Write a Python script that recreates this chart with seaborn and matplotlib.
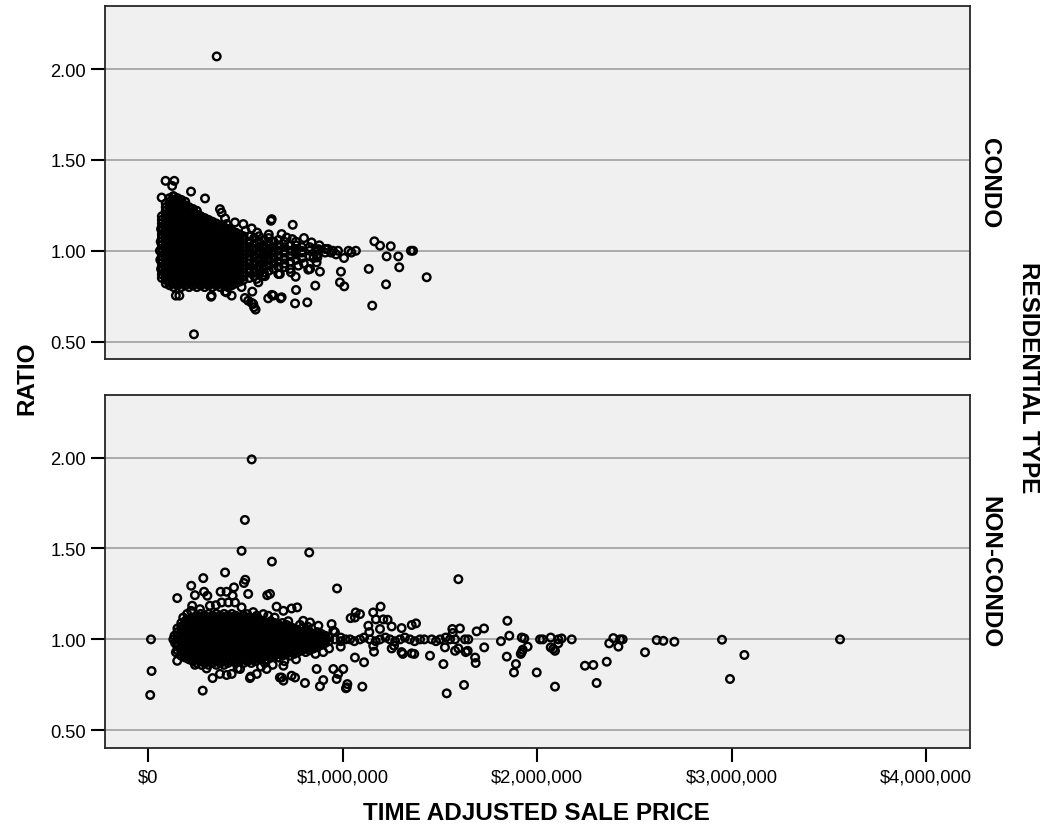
import matplotlib
matplotlib.use("Agg")
import numpy as np
import pandas as pd
import matplotlib.pyplot as plt
import seaborn as sns
from matplotlib.ticker import FuncFormatter

# ---------------- data (price in $1000s, ratio) ----------------
# CONDO: dense core, one list of ratios per price column (read from the black blob)
condo_core_price = [70, 90, 110, 130, 150, 170, 190, 210, 230, 250, 270, 290,
                    310, 330, 350, 370, 390, 410, 430, 450, 470, 490,
                    520, 545, 570, 595, 620, 645, 670, 700, 730, 760, 790, 830, 870, 910]
condo_core_ratio = [
    [0.85, 0.87, 0.89, 0.91, 0.93, 0.95, 0.97, 0.99, 1.01, 1.03, 1.05, 1.07, 1.09, 1.11, 1.13, 1.15, 1.17, 1.19],
    [0.82, 0.84, 0.86, 0.88, 0.90, 0.92, 0.94, 0.96, 0.98, 1.00, 1.02, 1.04, 1.06, 1.08, 1.10, 1.12, 1.14, 1.16, 1.18, 1.20, 1.22, 1.24, 1.26],
    [0.81, 0.83, 0.85, 0.87, 0.89, 0.91, 0.93, 0.95, 0.97, 0.99, 1.01, 1.03, 1.05, 1.07, 1.09, 1.11, 1.13, 1.15, 1.17, 1.19, 1.21, 1.23, 1.25, 1.27, 1.29],
    [0.80, 0.82, 0.84, 0.86, 0.88, 0.90, 0.92, 0.94, 0.96, 0.98, 1.00, 1.02, 1.04, 1.06, 1.08, 1.10, 1.12, 1.14, 1.16, 1.18, 1.20, 1.22, 1.24, 1.26, 1.28, 1.30],
    [0.81, 0.83, 0.85, 0.87, 0.89, 0.91, 0.93, 0.95, 0.97, 0.99, 1.01, 1.03, 1.05, 1.07, 1.09, 1.11, 1.13, 1.15, 1.17, 1.19, 1.21, 1.23, 1.25, 1.27, 1.29],
    [0.80, 0.82, 0.84, 0.86, 0.88, 0.90, 0.92, 0.94, 0.96, 0.98, 1.00, 1.02, 1.04, 1.06, 1.08, 1.10, 1.12, 1.14, 1.16, 1.18, 1.20, 1.22, 1.24, 1.26, 1.28],
    [0.81, 0.83, 0.85, 0.87, 0.89, 0.91, 0.93, 0.95, 0.97, 0.99, 1.01, 1.03, 1.05, 1.07, 1.09, 1.11, 1.13, 1.15, 1.17, 1.19, 1.21, 1.23, 1.25, 1.27],
    [0.80, 0.82, 0.84, 0.86, 0.88, 0.90, 0.92, 0.94, 0.96, 0.98, 1.00, 1.02, 1.04, 1.06, 1.08, 1.10, 1.12, 1.14, 1.16, 1.18, 1.20, 1.22, 1.24],
    [0.81, 0.83, 0.85, 0.87, 0.89, 0.91, 0.93, 0.95, 0.97, 0.99, 1.01, 1.03, 1.05, 1.07, 1.09, 1.11, 1.13, 1.15, 1.17, 1.19, 1.21, 1.23],
    [0.80, 0.82, 0.84, 0.86, 0.88, 0.90, 0.92, 0.94, 0.96, 0.98, 1.00, 1.02, 1.04, 1.06, 1.08, 1.10, 1.12, 1.14, 1.16, 1.18, 1.20, 1.22],
    [0.81, 0.83, 0.85, 0.87, 0.89, 0.91, 0.93, 0.95, 0.97, 0.99, 1.01, 1.03, 1.05, 1.07, 1.09, 1.11, 1.13, 1.15, 1.17, 1.19],
    [0.80, 0.82, 0.84, 0.86, 0.88, 0.90, 0.92, 0.94, 0.96, 0.98, 1.00, 1.02, 1.04, 1.06, 1.08, 1.10, 1.12, 1.14, 1.16, 1.18],
    [0.81, 0.83, 0.85, 0.87, 0.89, 0.91, 0.93, 0.95, 0.97, 0.99, 1.01, 1.03, 1.05, 1.07, 1.09, 1.11, 1.13, 1.15, 1.17],
    [0.80, 0.82, 0.84, 0.86, 0.88, 0.90, 0.92, 0.94, 0.96, 0.98, 1.00, 1.02, 1.04, 1.06, 1.08, 1.10, 1.12, 1.14, 1.16],
    [0.81, 0.83, 0.85, 0.87, 0.89, 0.91, 0.93, 0.95, 0.97, 0.99, 1.01, 1.03, 1.05, 1.07, 1.09, 1.11, 1.13, 1.15],
    [0.80, 0.82, 0.84, 0.86, 0.88, 0.90, 0.92, 0.94, 0.96, 0.98, 1.00, 1.02, 1.04, 1.06, 1.08, 1.10, 1.12, 1.14],
    [0.81, 0.83, 0.85, 0.87, 0.89, 0.91, 0.93, 0.95, 0.97, 0.99, 1.01, 1.03, 1.05, 1.07, 1.09, 1.11, 1.13],
    [0.80, 0.82, 0.84, 0.86, 0.88, 0.90, 0.92, 0.94, 0.96, 0.98, 1.00, 1.02, 1.04, 1.06, 1.08, 1.10, 1.12],
    [0.81, 0.83, 0.85, 0.87, 0.89, 0.91, 0.93, 0.95, 0.97, 0.99, 1.01, 1.03, 1.05, 1.07, 1.09, 1.11],
    [0.82, 0.84, 0.86, 0.88, 0.90, 0.92, 0.94, 0.96, 0.98, 1.00, 1.02, 1.04, 1.06, 1.08, 1.10],
    [0.83, 0.85, 0.87, 0.89, 0.91, 0.93, 0.95, 0.97, 0.99, 1.01, 1.03, 1.05, 1.07, 1.09],
    [0.84, 0.86, 0.88, 0.90, 0.92, 0.94, 0.96, 0.98, 1.00, 1.02, 1.04, 1.06, 1.08],
    [0.85, 0.88, 0.90, 0.93, 0.95, 0.97, 0.99, 1.00, 1.02, 1.05, 1.08],
    [0.86, 0.89, 0.92, 0.94, 0.97, 1.00, 1.01, 1.04, 1.07],
    [0.87, 0.90, 0.92, 0.95, 0.98, 1.00, 1.02, 1.05, 1.08],
    [0.88, 0.91, 0.94, 0.96, 0.99, 1.01, 1.03, 1.06],
    [0.89, 0.92, 0.95, 0.98, 1.00, 1.01, 1.04, 1.07],
    [0.90, 0.93, 0.96, 0.99, 1.00, 1.02, 1.05],
    [0.91, 0.94, 0.97, 1.00, 1.03, 1.06],
    [0.93, 0.96, 0.99, 1.00, 1.02, 1.05],
    [0.94, 0.97, 1.00, 1.03],
    [0.95, 0.98, 1.00, 1.01, 1.03],
    [0.96, 0.99, 1.00, 1.02],
    [0.97, 1.00, 1.02],
    [0.98, 1.00],
    [0.99, 1.01],
]
# CONDO: individually visible points
condo_points = [
    (352, 2.07), (235, 0.54),
    (89, 1.385), (134, 1.385), (123, 1.357), (69, 1.293), (129, 1.30), (220, 1.326), (292, 1.288),
    (369, 1.229), (377, 1.21), (395, 1.178), (403, 1.147), (446, 1.156), (489, 1.147), (532, 1.123),
    (635, 1.174), (631, 1.165), (743, 1.143), (686, 1.092), (712, 1.073), (741, 1.064), (801, 1.07),
    (840, 1.046), (875, 1.009), (918, 1.009), (924, 1.01), (976, 1.0), (1068, 1.0), (1163, 1.052),
    (1192, 1.028), (1247, 1.025), (1226, 0.969), (1286, 0.969), (1291, 0.909), (1351, 1.0), (1362, 1.0),
    (1432, 0.854), (1223, 0.815), (1152, 0.698), (1134, 0.90), (1007, 0.96), (966, 0.98), (991, 0.885),
    (986, 0.826), (1008, 0.804), (859, 0.808), (883, 0.885), (823, 0.896), (866, 0.936), (870, 0.963),
    (760, 0.784), (755, 0.71), (818, 0.716), (681, 0.738), (636, 0.757), (617, 0.738), (552, 0.676),
    (532, 0.713), (497, 0.74), (544, 0.689), (677, 0.872), (734, 0.881), (758, 0.857), (588, 0.863),
    (566, 0.826), (535, 0.775), (429, 0.753), (395, 0.775), (323, 0.747), (142, 0.753), (160, 0.753),
    (326, 0.753), (403, 0.771), (514, 0.725), (540, 0.707), (643, 0.753), (686, 0.744), (832, 0.90),
    (772, 0.918), (729, 0.90), (669, 0.872), (592, 0.863), (558, 0.845),
    (60, 1.00), (62, 0.95), (64, 1.05), (66, 0.90), (66, 1.12),
    (1030, 1.0), (1045, 0.99), (950, 1.0), (940, 0.99),
    (480, 0.80), (500, 1.11), (560, 1.10), (600, 0.86), (620, 1.09), (700, 0.91), (760, 1.05),
    (800, 0.93), (850, 0.96), (880, 1.03),
]

# NON-CONDO: dense core columns
noncondo_core_price = [150, 170, 190, 210, 230, 250, 270, 290, 310, 330, 350, 370,
                       390, 410, 430, 450, 470, 490, 510, 530, 550, 570, 590, 610,
                       630, 650, 670, 690, 710, 730, 750, 770, 790, 810, 830, 850,
                       870, 890, 910, 930, 960, 990]
noncondo_core_ratio = [
    [0.94, 0.96, 0.98, 1.00, 1.02, 1.04, 1.06],
    [0.91, 0.93, 0.95, 0.97, 0.99, 1.01, 1.03, 1.05, 1.07, 1.09],
    [0.90, 0.92, 0.94, 0.96, 0.98, 1.00, 1.02, 1.04, 1.06, 1.08, 1.10],
    [0.89, 0.91, 0.93, 0.95, 0.97, 0.99, 1.01, 1.03, 1.05, 1.07, 1.09, 1.11],
    [0.88, 0.90, 0.92, 0.94, 0.96, 0.98, 1.00, 1.02, 1.04, 1.06, 1.08, 1.10, 1.12],
    [0.87, 0.89, 0.91, 0.93, 0.95, 0.97, 0.99, 1.01, 1.03, 1.05, 1.07, 1.09, 1.11, 1.13],
    [0.88, 0.90, 0.92, 0.94, 0.96, 0.98, 1.00, 1.02, 1.04, 1.06, 1.08, 1.10, 1.12, 1.14],
    [0.87, 0.89, 0.91, 0.93, 0.95, 0.97, 0.99, 1.01, 1.03, 1.05, 1.07, 1.09, 1.11, 1.13],
    [0.86, 0.88, 0.90, 0.92, 0.94, 0.96, 0.98, 1.00, 1.02, 1.04, 1.06, 1.08, 1.10, 1.12, 1.14],
    [0.87, 0.89, 0.91, 0.93, 0.95, 0.97, 0.99, 1.01, 1.03, 1.05, 1.07, 1.09, 1.11, 1.13],
    [0.86, 0.88, 0.90, 0.92, 0.94, 0.96, 0.98, 1.00, 1.02, 1.04, 1.06, 1.08, 1.10, 1.12, 1.14],
    [0.87, 0.89, 0.91, 0.93, 0.95, 0.97, 0.99, 1.01, 1.03, 1.05, 1.07, 1.09, 1.11, 1.13],
    [0.86, 0.88, 0.90, 0.92, 0.94, 0.96, 0.98, 1.00, 1.02, 1.04, 1.06, 1.08, 1.10, 1.12, 1.14],
    [0.87, 0.89, 0.91, 0.93, 0.95, 0.97, 0.99, 1.01, 1.03, 1.05, 1.07, 1.09, 1.11, 1.13],
    [0.88, 0.90, 0.92, 0.94, 0.96, 0.98, 1.00, 1.02, 1.04, 1.06, 1.08, 1.10, 1.12, 1.14],
    [0.87, 0.89, 0.91, 0.93, 0.95, 0.97, 0.99, 1.01, 1.03, 1.05, 1.07, 1.09, 1.11, 1.13],
    [0.88, 0.90, 0.92, 0.94, 0.96, 0.98, 1.00, 1.02, 1.04, 1.06, 1.08, 1.10, 1.12],
    [0.87, 0.89, 0.91, 0.93, 0.95, 0.97, 0.99, 1.01, 1.03, 1.05, 1.07, 1.09, 1.11, 1.13],
    [0.88, 0.90, 0.92, 0.94, 0.96, 0.98, 1.00, 1.02, 1.04, 1.06, 1.08, 1.10, 1.12],
    [0.87, 0.89, 0.91, 0.93, 0.95, 0.97, 0.99, 1.01, 1.03, 1.05, 1.07, 1.09, 1.11],
    [0.88, 0.90, 0.92, 0.94, 0.96, 0.98, 1.00, 1.02, 1.04, 1.06, 1.08, 1.10, 1.12],
    [0.89, 0.91, 0.93, 0.95, 0.97, 0.99, 1.01, 1.03, 1.05, 1.07, 1.09, 1.11],
    [0.90, 0.92, 0.94, 0.96, 0.98, 1.00, 1.02, 1.04, 1.06, 1.08, 1.10],
    [0.89, 0.91, 0.93, 0.95, 0.97, 0.99, 1.01, 1.03, 1.05, 1.07, 1.09],
    [0.90, 0.92, 0.94, 0.96, 0.98, 1.00, 1.02, 1.04, 1.06, 1.08, 1.10],
    [0.91, 0.93, 0.95, 0.97, 0.99, 1.01, 1.03, 1.05, 1.07, 1.09],
    [0.90, 0.92, 0.94, 0.96, 0.98, 1.00, 1.02, 1.04, 1.06, 1.08],
    [0.91, 0.93, 0.95, 0.97, 0.99, 1.01, 1.03, 1.05, 1.07, 1.09],
    [0.92, 0.94, 0.96, 0.98, 1.00, 1.02, 1.04, 1.06, 1.08],
    [0.91, 0.93, 0.95, 0.97, 0.99, 1.01, 1.03, 1.05, 1.07],
    [0.92, 0.94, 0.96, 0.98, 1.00, 1.02, 1.04, 1.06],
    [0.93, 0.95, 0.97, 0.99, 1.01, 1.03, 1.05],
    [0.94, 0.96, 0.98, 1.00, 1.02, 1.04, 1.06],
    [0.93, 0.95, 0.97, 0.99, 1.01, 1.03, 1.05],
    [0.94, 0.96, 0.98, 1.00, 1.02, 1.04],
    [0.95, 0.97, 0.99, 1.01, 1.03],
    [0.96, 0.98, 1.00, 1.02, 1.04],
    [0.97, 0.99, 1.01, 1.03],
    [0.98, 1.00, 1.02],
    [0.99, 1.01],
    [1.00],
    [0.99, 1.01],
]
# NON-CONDO: individually visible points
noncondo_points = [
    (532, 1.99), (497, 1.657), (480, 1.487), (828, 1.478), (636, 1.428), (971, 1.28), (1595, 1.331),
    (395, 1.368), (283, 1.337), (499, 1.328), (492, 1.31), (221, 1.295), (149, 1.227), (240, 1.243),
    (287, 1.262), (304, 1.24), (372, 1.262), (403, 1.262), (441, 1.286), (434, 1.24), (514, 1.25),
    (612, 1.243), (626, 1.25), (660, 1.18), (737, 1.17), (766, 1.176),
    (280, 0.718), (10, 0.694), (17, 0.826), (14, 1.0), (331, 0.787), (523, 0.787), (527, 0.795),
    (695, 0.773), (677, 0.79), (737, 0.80), (806, 0.76), (883, 0.742), (900, 0.776), (969, 0.782),
    (977, 0.81), (1017, 0.731), (1024, 0.754), (1101, 0.74), (1110, 0.874), (1535, 0.703),
    (1624, 0.749), (1518, 0.864), (1449, 0.91), (1681, 0.90), (1684, 0.87), (1728, 0.956),
    (1689, 1.044), (1727, 1.06), (1847, 1.102), (1844, 0.905), (1891, 0.864), (1881, 0.818),
    (1814, 0.99), (1857, 1.02), (1921, 1.01), (1934, 1.005), (1951, 0.96), (1921, 0.93), (1916, 0.92),
    (1998, 0.818), (2015, 1.0),
    (1041, 1.117), (1067, 1.148), (1089, 1.139), (1063, 1.12), (1157, 1.148), (1195, 1.18),
    (1171, 1.11), (1209, 1.11), (1231, 1.108), (1252, 1.071), (1132, 1.075), (1137, 1.04),
    (1192, 1.057), (1303, 1.062), (1355, 1.079), (1377, 1.088), (1564, 1.057), (1603, 1.06),
    (1566, 1.035),
    (1157, 0.965), (1161, 0.932), (1252, 0.95), (1264, 0.965), (1303, 0.93), (1309, 0.92),
    (1355, 0.923), (1368, 0.92), (1526, 0.956), (1578, 0.937), (1595, 0.95), (1633, 0.93),
    (1643, 0.937),
    (1038, 1.0), (1089, 1.0), (1140, 1.0), (1192, 1.0), (1243, 1.0), (1295, 1.0), (1346, 1.0),
    (1398, 1.0), (1458, 1.0), (1501, 1.0), (1552, 1.0), (1578, 1.0), (1629, 1.0), (1646, 1.0),
    (1015, 1.0), (1060, 0.99), (1110, 1.01), (1170, 0.99), (1220, 1.01), (1270, 0.99), (1320, 1.01),
    (1370, 0.99), (1420, 1.0), (1480, 0.99), (1530, 1.01),
    (2029, 1.0), (2070, 1.01), (2109, 1.0), (2126, 1.005), (2178, 1.0), (2392, 1.007), (2427, 1.0),
    (2440, 1.0), (2615, 0.996), (2649, 0.992), (2706, 0.987), (2951, 0.998), (3558, 1.0),
    (1926, 0.943), (2070, 0.956), (2083, 0.947), (2092, 0.937), (2092, 0.74), (2109, 0.978),
    (2246, 0.855), (2289, 0.859), (2306, 0.76), (2358, 0.877), (2371, 0.978), (2418, 0.96),
    (2555, 0.929), (2992, 0.782), (3066, 0.914),
    (220, 1.157), (226, 1.185), (266, 1.166), (317, 1.185), (348, 1.188), (377, 1.203), (412, 1.203),
    (446, 1.203), (480, 1.176), (695, 1.157), (509, 1.139), (558, 1.13), (592, 1.139), (617, 1.13),
    (797, 1.102), (832, 1.093), (875, 1.075), (943, 1.084), (952, 1.047),
    (142, 0.929), (149, 0.882), (198, 0.91), (232, 0.892), (275, 0.859), (369, 0.81), (403, 0.804),
    (429, 0.81), (472, 0.837), (558, 0.81), (609, 0.837), (695, 0.855), (686, 0.79), (755, 0.79),
    (866, 0.837), (952, 0.837), (1003, 0.837), (1021, 0.736), (1063, 0.90),
    (129, 1.0), (135, 1.02), (138, 0.98),
    (600, 0.87), (640, 0.86), (700, 0.88), (760, 0.89), (780, 1.08), (820, 1.07), (860, 0.92),
    (900, 0.93), (930, 0.95), (960, 1.04), (990, 0.96), (720, 1.10), (650, 1.12), (540, 1.15),
    (580, 0.85), (460, 0.84), (300, 0.84), (240, 0.86), (180, 1.12), (200, 1.14),
]

ratio_ticks = [0.50, 1.00, 1.50, 2.00]
price_ticks = [0, 1000000, 2000000, 3000000, 4000000]
panel_labels = ["CONDO", "NON-CONDO"]


def build(core_price, core_ratio, points):
    xs, ys = [], []
    for p, rs in zip(core_price, core_ratio):
        xs.extend([p] * len(rs))
        ys.extend(rs)
    for p, r in points:
        xs.append(p)
        ys.append(r)
    return pd.DataFrame({"price": np.array(xs, dtype=float) * 1000.0, "ratio": ys})


condo_df = build(condo_core_price, condo_core_ratio, condo_points)
noncondo_df = build(noncondo_core_price, noncondo_core_ratio, noncondo_points)

# ---------------- styling ----------------
sns.set_theme(style="ticks")
plt.rcParams["font.family"] = ["Liberation Sans", "DejaVu Sans"]
plt.rcParams["text.color"] = "black"
plt.rcParams["axes.labelcolor"] = "black"
plt.rcParams["xtick.color"] = "black"
plt.rcParams["ytick.color"] = "black"

W, H = 1049, 829
fig = plt.figure(figsize=(W / 100, H / 100), dpi=100)
left, right = 104.7, 970.3
ax_top = fig.add_axes([left / W, 1 - 360.0 / H, (right - left) / W, (360.0 - 7.3) / H])
ax_bot = fig.add_axes([left / W, 1 - 748.7 / H, (right - left) / W, (748.7 - 395.7) / H])

for ax, df in [(ax_top, condo_df), (ax_bot, noncondo_df)]:
    ax.set_facecolor("#f0f0f0")
    ax.set_yticks(ratio_ticks)
    ax.yaxis.grid(True, color="#a5a5a5", linewidth=1.3)
    ax.xaxis.grid(False)
    ax.set_axisbelow(True)
    sns.scatterplot(data=df, x="price", y="ratio", ax=ax, marker="o", s=30,
                    color="black", facecolor="none", edgecolor="black",
                    linewidth=1.7, zorder=3, legend=False)
    ax.set_xlim(-224000, 4228000)
    ax.set_ylim(0.404, 2.346)
    ax.yaxis.set_major_formatter(FuncFormatter(lambda v, p: f"{v:.2f}"))
    ax.tick_params(axis="y", left=True, length=10, width=1.5, direction="out",
                   labelsize=13.2, pad=3.5, colors="black", labelcolor="black")
    for sp in ax.spines.values():
        sp.set_visible(True)
        sp.set_color("#262626")
        sp.set_linewidth(1.3)
    ax.set_xlabel("")
    ax.set_ylabel("")

ax_top.set_xticks(price_ticks)
ax_top.tick_params(axis="x", bottom=False, labelbottom=False)
ax_bot.set_xticks(price_ticks)
ax_bot.xaxis.set_major_formatter(FuncFormatter(lambda v, p: "${:,.0f}".format(v)))
ax_bot.tick_params(axis="x", bottom=True, length=10, width=1.5, direction="out",
                   labelsize=13.2, pad=5, colors="black", labelcolor="black")

# axis titles and facet labels
fig.text(27 / W, 1 - 378 / H, "RATIO", rotation=90, ha="center", va="center",
         fontsize=17.5, fontweight="bold", color="black")
fig.text(536 / W, 1 - 814 / H, "TIME ADJUSTED SALE PRICE", ha="center", va="center",
         fontsize=17.5, fontweight="bold", color="black")
fig.text(990 / W, 1 - 183.5 / H, panel_labels[0], rotation=270, ha="center", va="center",
         fontsize=17.5, fontweight="bold", color="black")
fig.text(990 / W, 1 - 572 / H, panel_labels[1], rotation=270, ha="center", va="center",
         fontsize=17.5, fontweight="bold", color="black")
fig.text(1029 / W, 1 - 378 / H, "RESIDENTIAL TYPE", rotation=270, ha="center", va="center",
         fontsize=17.5, fontweight="bold", color="black")

fig.savefig("out.png", dpi=100, facecolor="white")
